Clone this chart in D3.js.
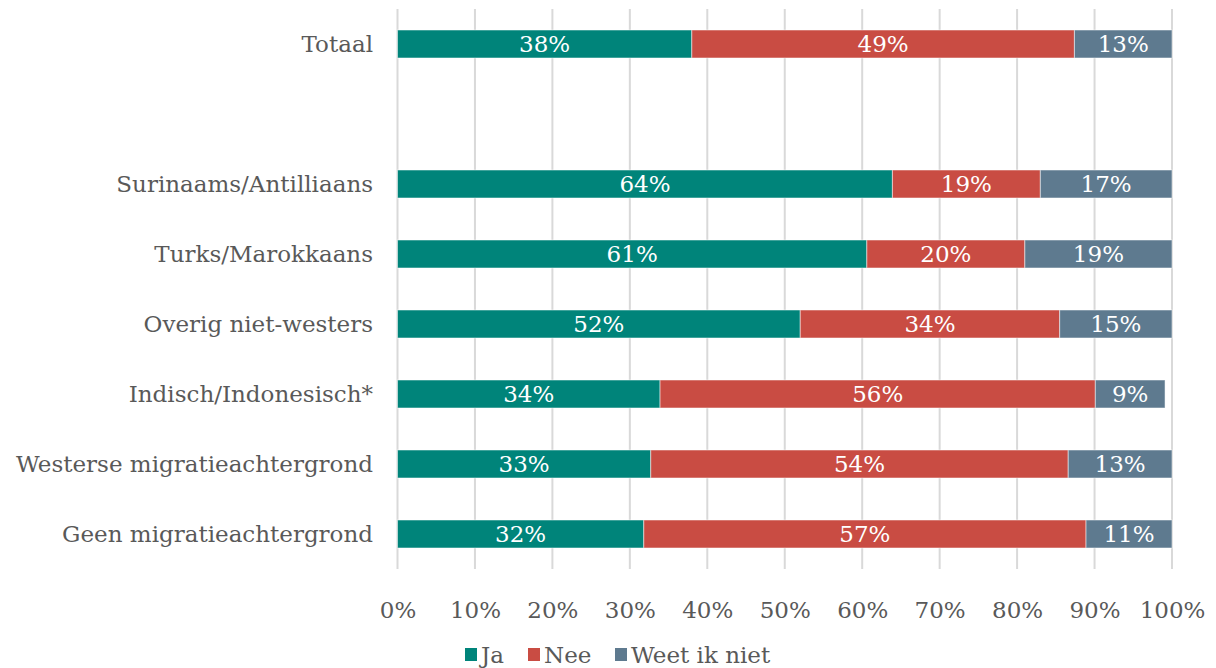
<!DOCTYPE html>
<html>
<head>
<meta charset="utf-8">
<script src="https://cdn.jsdelivr.net/npm/d3@7"></script>
<style>
  body { margin: 0; background: #fff; }
  svg text { font-family: "DejaVu Serif", "Liberation Serif", serif; }
</style>
</head>
<body>
<svg id="chart" width="1216" height="668"></svg>
<script>
// rows top to bottom, "" is the empty spacer row
const categories = ["Totaal", "", "Surinaams/Antilliaans", "Turks/Marokkaans", "Overig niet-westers",
  "Indisch/Indonesisch*", "Westerse migratieachtergrond", "Geen migratieachtergrond"];
const series = ["Ja", "Nee", "Weet ik niet"];
const ja   = [38.0, null, 63.9, 60.6, 52.0, 33.9, 32.7, 31.8];
const nee  = [49.4, null, 19.1, 20.4, 33.5, 56.2, 53.9, 57.1];
const weet = [12.6, null, 17.0, 19.0, 14.5, 9.0, 13.4, 11.1];
const ticks = [0, 10, 20, 30, 40, 50, 60, 70, 80, 90, 100];

const colors = ["#00847a", "#c94c43", "#5e7a8f"];
const textGrey = "#595959";
const fs = 23;

const svg = d3.select("#chart");

const x = d3.scaleLinear().domain([0, 100]).range([397.5, 1172]);
const y = d3.scaleBand().domain(d3.range(categories.length)).range([9, 569])
    .paddingInner(0.6).paddingOuter(0.3);

// grid
svg.append("g")
    .selectAll("line")
    .data(ticks)
    .join("line")
    .attr("x1", d => x(d))
    .attr("x2", d => x(d))
    .attr("y1", 9)
    .attr("y2", 569)
    .attr("stroke", "#d9d9d9")
    .attr("stroke-width", 2);

// stack
const rows = categories.map((c, i) => ({ i, c, vals: [ja[i], nee[i], weet[i]] }))
    .filter(d => d.vals[0] != null);

const segs = [];
rows.forEach(r => {
  let acc = 0;
  r.vals.forEach((v, k) => {
    segs.push({ i: r.i, k, x0: acc, x1: acc + v, v });
    acc += v;
  });
});

const bars = svg.append("g");
bars.selectAll("rect")
    .data(segs)
    .join("rect")
    .attr("x", d => x(d.x0))
    .attr("y", d => y(d.i))
    .attr("width", d => x(d.x1) - x(d.x0))
    .attr("height", y.bandwidth())
    .attr("fill", d => colors[d.k])
    .attr("stroke", "#ffffff")
    .attr("stroke-opacity", 0.5)
    .attr("stroke-width", 1);

bars.selectAll("text")
    .data(segs)
    .join("text")
    .attr("x", d => (x(d.x0) + x(d.x1)) / 2)
    .attr("y", d => y(d.i) + y.bandwidth() / 2)
    .attr("dy", "0.36em")
    .attr("text-anchor", "middle")
    .attr("fill", "#ffffff")
    .attr("font-size", fs)
    .text(d => Math.round(d.v) + "%");

// category labels
svg.append("g")
    .selectAll("text")
    .data(categories.map((c, i) => ({ c, i })))
    .join("text")
    .attr("x", 373)
    .attr("y", d => y(d.i) + y.bandwidth() / 2)
    .attr("dy", "0.36em")
    .attr("text-anchor", "end")
    .attr("fill", textGrey)
    .attr("font-size", fs)
    .text(d => d.c);

// x axis
const xAxis = svg.append("g")
    .attr("transform", "translate(0,569)")
    .call(d3.axisBottom(x).tickValues(ticks).tickFormat(d => d + "%").tickSize(0).tickPadding(33));
xAxis.select(".domain").remove();
xAxis.selectAll("text")
    .attr("fill", textGrey)
    .attr("font-size", fs)
    .attr("font-family", "DejaVu Serif, serif");

// legend
const legendX = [465, 528, 615];
const legend = svg.append("g")
    .selectAll("g")
    .data(series)
    .join("g")
    .attr("transform", (d, i) => `translate(${legendX[i]},648)`);
legend.append("rect")
    .attr("width", 12)
    .attr("height", 13)
    .attr("fill", (d, i) => colors[i]);
legend.append("text")
    .attr("x", 16)
    .attr("y", 7)
    .attr("dy", "0.36em")
    .attr("fill", textGrey)
    .attr("font-size", fs)
    .text(d => d);
</script>
</body>
</html>
